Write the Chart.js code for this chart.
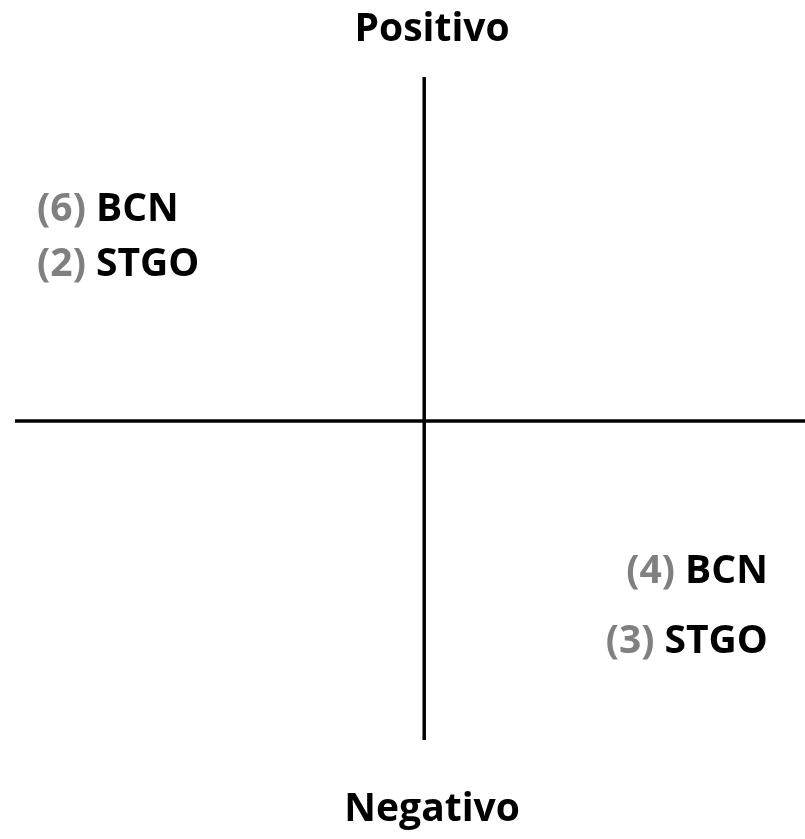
<!DOCTYPE html>
<html><head><meta charset="utf-8">
<script src="https://cdn.jsdelivr.net/npm/chart.js@4/dist/chart.umd.min.js"></script>
<style>html,body{margin:0;padding:0;background:#fff}canvas{display:block}</style>
</head><body>
<canvas id="c" width="805" height="839"></canvas>
<script>
// Axis lines (data units: 0..100 on both axes)
const horizontalLine = [{x:0, y:48.1}, {x:100, y:48.1}];
const verticalLine = [{x:51.8, y:0}, {x:51.8, y:100}];
// Quadrant labels
const labelNumbers = ['(6)', '(2)', '(4)', '(3)'];
const labelNames = ['BCN', 'STGO', 'BCN', 'STGO'];
const labelX = [2.8, 2.8, 95.3, 95.3];
const labelY = [79.9, 71.6, 25.3, 14.8];
const labelAlign = ['left', 'left', 'right', 'right'];
// Axis titles
const axisTitles = ['Positivo', 'Negativo'];
const axisTitleX = [52.8, 52.8];
const axisTitleY = [107.1, -10.6];

const FONT = 'bold 39px "Open Sans", Lato, sans-serif';

const labelPlugin = {
  id: 'labels',
  afterDatasetsDraw(chart) {
    const ctx = chart.ctx, xs = chart.scales.x, ys = chart.scales.y;
    ctx.save();
    ctx.font = FONT;
    ctx.textBaseline = 'middle';
    for (let i = 0; i < labelNames.length; i++) {
      const px = xs.getPixelForValue(labelX[i]);
      const py = ys.getPixelForValue(labelY[i]);
      const num = labelNumbers[i] + ' ';
      const wNum = ctx.measureText(num).width;
      const wName = ctx.measureText(labelNames[i]).width;
      const start = labelAlign[i] === 'left' ? px : px - wNum - wName;
      ctx.textAlign = 'left';
      ctx.fillStyle = '#808080';
      ctx.fillText(num, start, py);
      ctx.fillStyle = '#000000';
      ctx.fillText(labelNames[i], start + wNum, py);
    }
    ctx.textAlign = 'center';
    ctx.fillStyle = '#000000';
    for (let i = 0; i < axisTitles.length; i++) {
      ctx.fillText(axisTitles[i], xs.getPixelForValue(axisTitleX[i]), ys.getPixelForValue(axisTitleY[i]));
    }
    ctx.restore();
  }
};

new Chart(document.getElementById('c'), {
  type: 'scatter',
  data: {
    datasets: [
      {data: horizontalLine, showLine: true, borderColor: '#000', borderWidth: 3.5, pointRadius: 0, clip: false},
      {data: verticalLine, showLine: true, borderColor: '#000', borderWidth: 3.5, pointRadius: 0, clip: false}
    ]
  },
  options: {
    responsive: false,
    animation: false,
    layout: {padding: {left: 15, right: 0, top: 77, bottom: 99}},
    scales: {
      x: {type: 'linear', min: 0, max: 100, display: false},
      y: {type: 'linear', min: 0, max: 100, display: false}
    },
    plugins: {legend: {display: false}, tooltip: {enabled: false}}
  },
  plugins: [labelPlugin]
});
</script>
</body></html>
